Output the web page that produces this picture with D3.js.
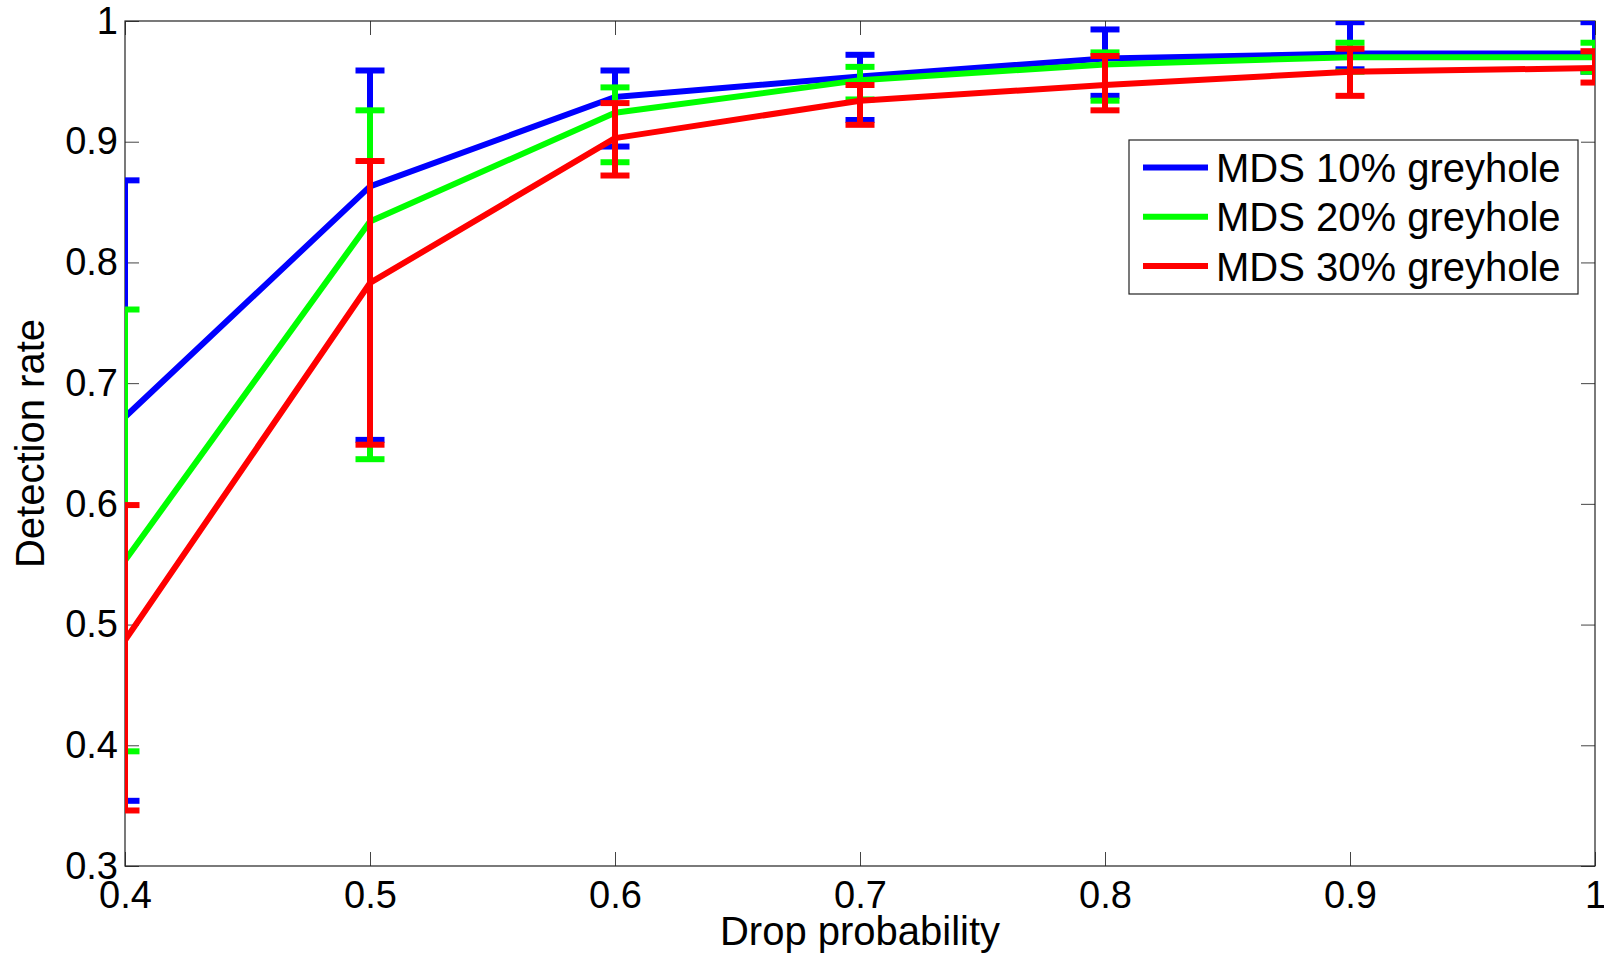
<!DOCTYPE html>
<html>
<head>
<meta charset="utf-8">
<script src="https://cdn.jsdelivr.net/npm/d3@7"></script>
<style>
  body { margin: 0; background: #fff; }
  text { font-family: "Liberation Sans", Arial, Helvetica, sans-serif; fill: #000; }
</style>
</head>
<body>
<svg id="chart"></svg>
<script>
/* data */
var probs = [0.4, 0.5, 0.6, 0.7, 0.8, 0.9, 1.0];

var mean10  = [0.672, 0.863, 0.937, 0.954, 0.969, 0.973, 0.973],
    upper10 = [0.868, 0.959, 0.959, 0.972, 0.993, 0.999, 0.999],
    lower10 = [0.354, 0.653, 0.896, 0.918, 0.938, 0.960, 0.958];

var mean20  = [0.553, 0.834, 0.924, 0.951, 0.964, 0.970, 0.970],
    upper20 = [0.761, 0.926, 0.945, 0.962, 0.974, 0.982, 0.982],
    lower20 = [0.395, 0.637, 0.883, 0.935, 0.934, 0.958, 0.958];

var mean30  = [0.487, 0.783, 0.903, 0.934, 0.947, 0.958, 0.961],
    upper30 = [0.599, 0.884, 0.932, 0.947, 0.971, 0.977, 0.975],
    lower30 = [0.346, 0.649, 0.872, 0.914, 0.926, 0.938, 0.949];

var seriesNames = ['MDS 10% greyhole', 'MDS 20% greyhole', 'MDS 30% greyhole'];
var xTicks = [0.4, 0.5, 0.6, 0.7, 0.8, 0.9, 1];
var yTicks = [0.3, 0.4, 0.5, 0.6, 0.7, 0.8, 0.9, 1];

(function () {
    'use strict';

    var W = 1604, H = 959;
    var left = 125, right = 1595, top = 21, bottom = 866;
    var colors = ['#0000ff', '#00ff00', '#ff0000'];

    var svg = d3.select('#chart').attr('width', W).attr('height', H);

    var x = d3.scaleLinear().domain([0.4, 1]).range([left, right]);
    var y = d3.scaleLinear().domain([0.3, 1]).range([bottom, top]);

    svg.append('defs').append('clipPath').attr('id', 'plotclip')
        .append('rect')
        .attr('x', left).attr('y', top)
        .attr('width', right - left).attr('height', bottom - top);

    /* Axes (ticks inward, mirrored on top and right) */

    var tickLen = 14;
    var fmt = function (d) { return d === 1 ? '1' : d3.format('.1f')(d); };

    svg.append('g').attr('transform', 'translate(0,' + bottom + ')')
        .call(d3.axisBottom(x).tickValues(xTicks).tickSize(-tickLen).tickFormat(fmt).tickPadding(15))
        .call(function (g) {
            g.select('.domain').remove();
            g.selectAll('line').attr('stroke', '#444');
            g.selectAll('text').style('font-size', '38px');
        });

    svg.append('g').attr('transform', 'translate(0,' + top + ')')
        .call(d3.axisTop(x).tickValues(xTicks).tickSize(-tickLen).tickFormat(''))
        .call(function (g) { g.select('.domain').remove(); g.selectAll('line').attr('stroke', '#444'); });

    svg.append('g').attr('transform', 'translate(' + left + ',0)')
        .call(d3.axisLeft(y).tickValues(yTicks).tickSize(-tickLen).tickFormat(fmt).tickPadding(7))
        .call(function (g) {
            g.select('.domain').remove();
            g.selectAll('line').attr('stroke', '#444');
            g.selectAll('text').style('font-size', '38px');
        });

    svg.append('g').attr('transform', 'translate(' + right + ',0)')
        .call(d3.axisRight(y).tickValues(yTicks).tickSize(-tickLen).tickFormat(''))
        .call(function (g) { g.select('.domain').remove(); g.selectAll('line').attr('stroke', '#444'); });

    svg.append('rect')
        .attr('x', left).attr('y', top)
        .attr('width', right - left).attr('height', bottom - top)
        .attr('fill', 'none').attr('stroke', '#222').attr('stroke-width', 1.2);

    /* Series with error bars */

    var series = [
        { mean: mean10, lo: lower10, hi: upper10 },
        { mean: mean20, lo: lower20, hi: upper20 },
        { mean: mean30, lo: lower30, hi: upper30 }
    ];

    var line = d3.line()
        .x(function (d) { return x(d.p); })
        .y(function (d) { return y(d.v); });

    var plot = svg.append('g').attr('clip-path', 'url(#plotclip)');
    var capHalf = 14.5;

    series.forEach(function (s, i) {
        var pts = probs.map(function (p, k) {
            return { p: p, v: s.mean[k], lo: s.lo[k], hi: s.hi[k] };
        });
        var g = plot.append('g')
            .attr('stroke', colors[i])
            .attr('stroke-width', 6)
            .attr('fill', 'none');

        g.append('path').datum(pts).attr('d', line).attr('stroke-linejoin', 'round');

        var eb = g.selectAll('.eb').data(pts).enter().append('g');
        eb.append('line')
            .attr('x1', function (d) { return x(d.p); })
            .attr('x2', function (d) { return x(d.p); })
            .attr('y1', function (d) { return y(d.lo); })
            .attr('y2', function (d) { return y(d.hi); });
        ['lo', 'hi'].forEach(function (k) {
            eb.append('line')
                .attr('x1', function (d) { return x(d.p) - capHalf; })
                .attr('x2', function (d) { return x(d.p) + capHalf; })
                .attr('y1', function (d) { return y(d[k]); })
                .attr('y2', function (d) { return y(d[k]); });
        });
    });

    /* Axis labels */

    svg.append('text')
        .attr('x', (left + right) / 2).attr('y', 945)
        .attr('text-anchor', 'middle')
        .style('font-size', '40px')
        .text('Drop probability');

    svg.append('text')
        .attr('transform', 'translate(44,' + (top + bottom) / 2 + ') rotate(-90)')
        .attr('text-anchor', 'middle')
        .style('font-size', '40px')
        .text('Detection rate');

    /* Legend */

    var lg = svg.append('g');
    lg.append('rect')
        .attr('x', 1129).attr('y', 140)
        .attr('width', 449).attr('height', 154)
        .attr('fill', '#fff').attr('stroke', '#222').attr('stroke-width', 1.2);

    seriesNames.forEach(function (name, i) {
        var cy = 167.5 + i * 49.3;
        lg.append('line')
            .attr('x1', 1143).attr('x2', 1208)
            .attr('y1', cy).attr('y2', cy)
            .attr('stroke', colors[i]).attr('stroke-width', 6);
        lg.append('text')
            .attr('x', 1216).attr('y', cy)
            .attr('dy', '0.36em')
            .style('font-size', '40px')
            .text(name);
    });
})();
</script>
</body>
</html>
